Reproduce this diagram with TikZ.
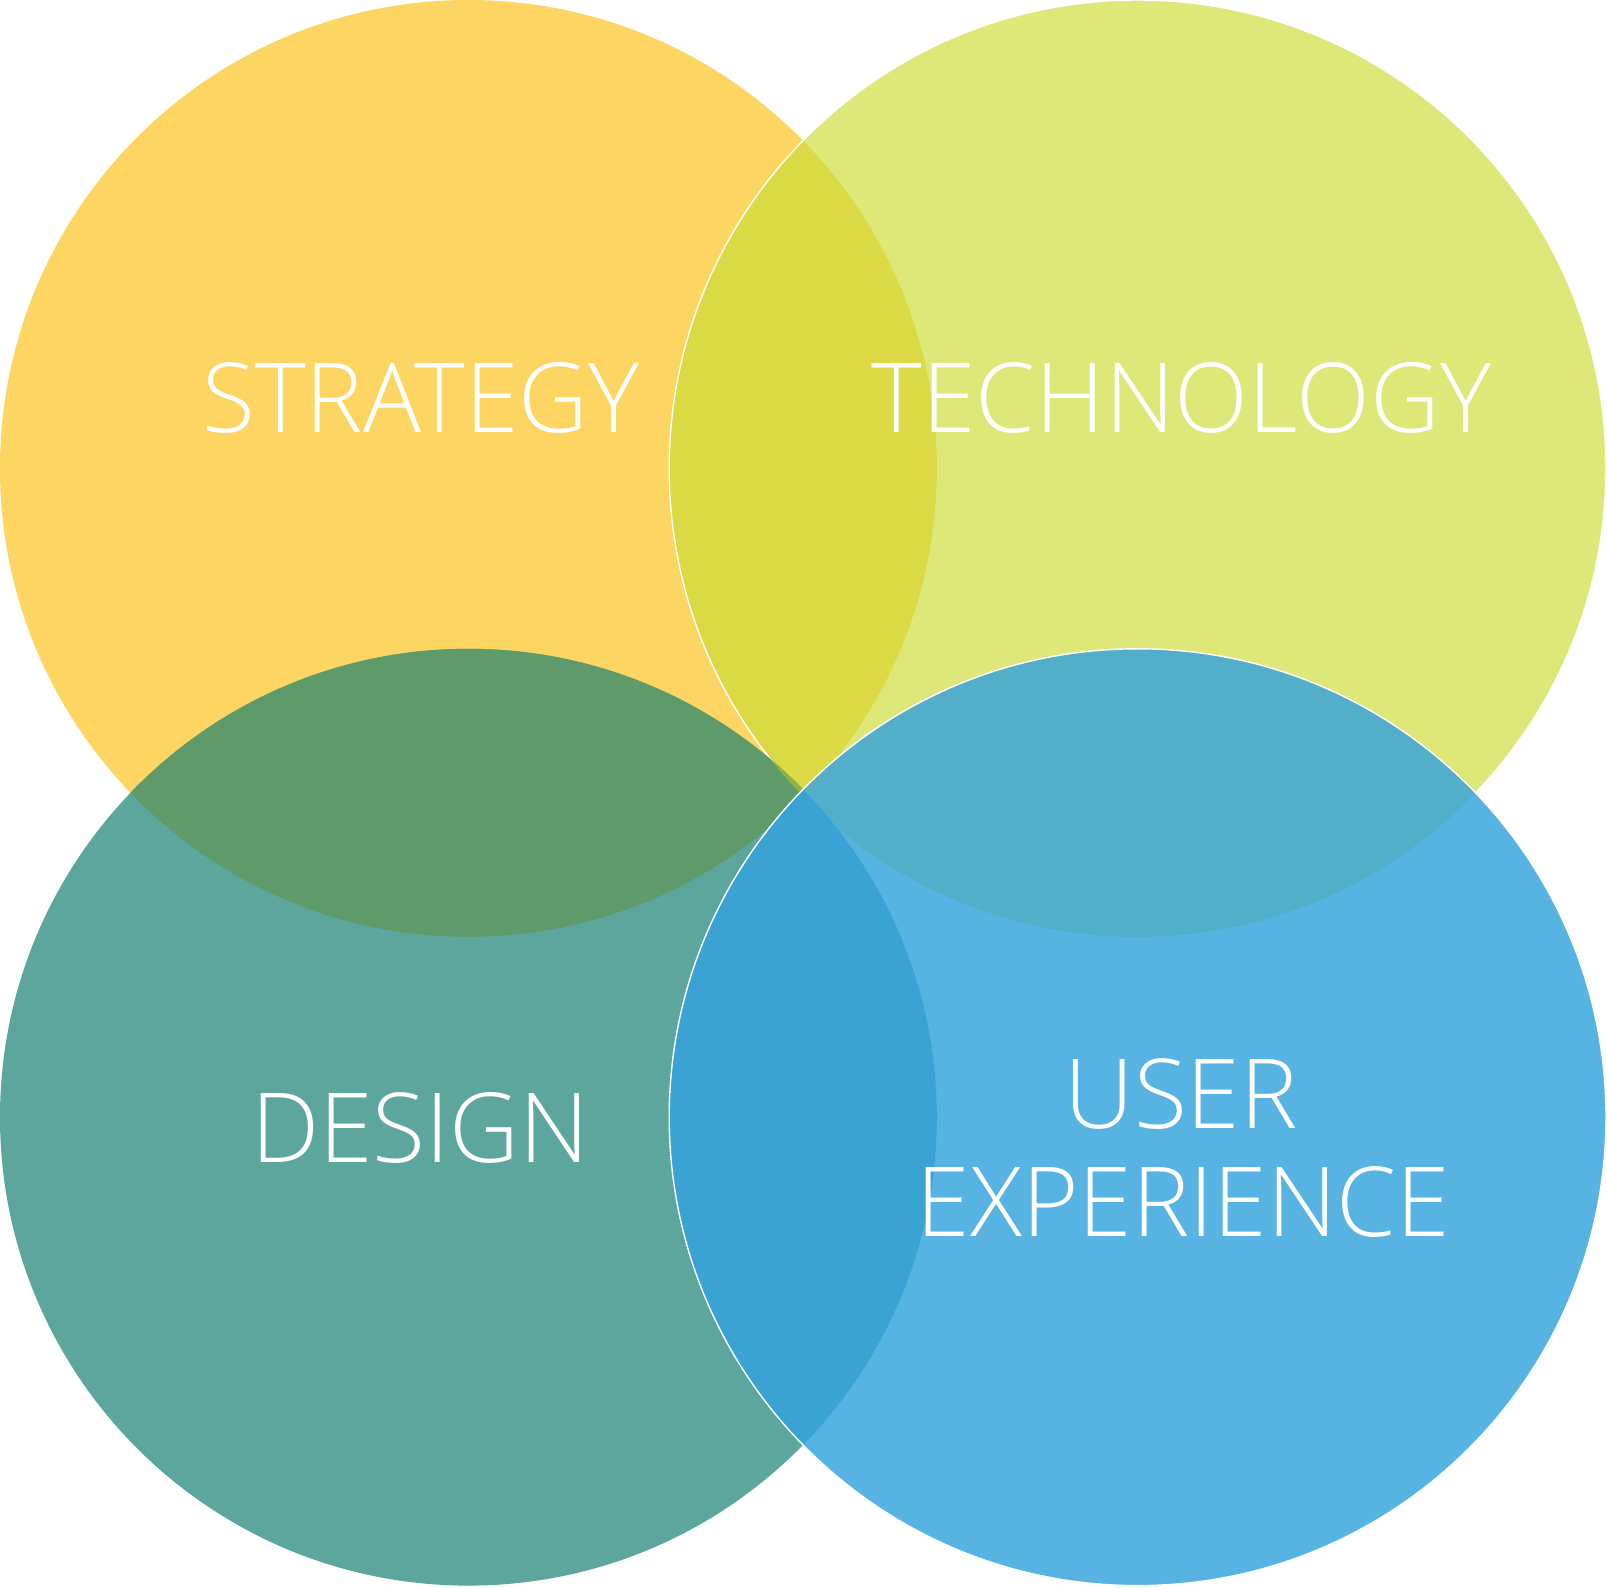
\documentclass[tikz,border=0pt]{standalone}
\usepackage{fontspec}
\setmainfont{Open Sans}[UprightFont={* Light}]

\definecolor{strategy}{HTML}{FDD562}
\definecolor{technology}{HTML}{DDE878}
\definecolor{design}{HTML}{5CA69D}
\definecolor{userexp}{HTML}{56B3E2}
\definecolor{strattech}{HTML}{DBD944}
\definecolor{stratdesign}{HTML}{5E9A6A}
\definecolor{techuser}{HTML}{52AEC9}
\definecolor{designuser}{HTML}{3AA3D3}
\definecolor{middle}{HTML}{8DB24C}

\def\rad{468.4pt}

\begin{document}
\begin{tikzpicture}[x=1pt,y=-1pt,
  rim/.style={draw=white,line width=1.4pt},
  word/.style={text=white,anchor=base,inner sep=0pt,font=\fontsize{96.6}{110}\selectfont}]
  \useasboundingbox[fill=white] (0,0) rectangle (1607,1588);

  \coordinate (s) at (468.4,468.4);
  \coordinate (t) at (1137.6,468.4);
  \coordinate (d) at (468.4,1117.2);
  \coordinate (u) at (1137.6,1117.2);

  % top row
  \fill[strategy] (s) circle[radius=\rad];
  \fill[technology] (t) circle[radius=\rad];
  \begin{scope}
    \clip (s) circle[radius=\rad];
    \fill[strattech] (t) circle[radius=\rad];
  \end{scope}
  \draw[rim] (t) circle[radius=\rad];

  % bottom row
  \fill[design] (d) circle[radius=\rad];
  \begin{scope}
    \clip (d) circle[radius=\rad];
    \fill[stratdesign] (s) circle[radius=\rad];
  \end{scope}
  \begin{scope}
    \clip (d) circle[radius=\rad];
    \clip (s) circle[radius=\rad];
    \fill[middle] (t) circle[radius=\rad];
  \end{scope}
  \fill[userexp] (u) circle[radius=\rad];
  \begin{scope}
    \clip (u) circle[radius=\rad];
    \fill[techuser] (t) circle[radius=\rad];
  \end{scope}
  \begin{scope}
    \clip (u) circle[radius=\rad];
    \fill[designuser] (d) circle[radius=\rad];
  \end{scope}
  \draw[rim] (u) circle[radius=\rad];

  % labels
  \node[word] (strat) at (421,432.3) {STRATEGY};
  \node[word] (tech) at (1181.5,432.3) {TECHNOLOGY};
  \node[word] (des) at (420,1162.2) {DESIGN};
  \node[word] (user) at (1181,1128.4) {USER};
  \node[word] (exper) at (1183.5,1236) {EXPERIENCE};
\end{tikzpicture}
\end{document}
